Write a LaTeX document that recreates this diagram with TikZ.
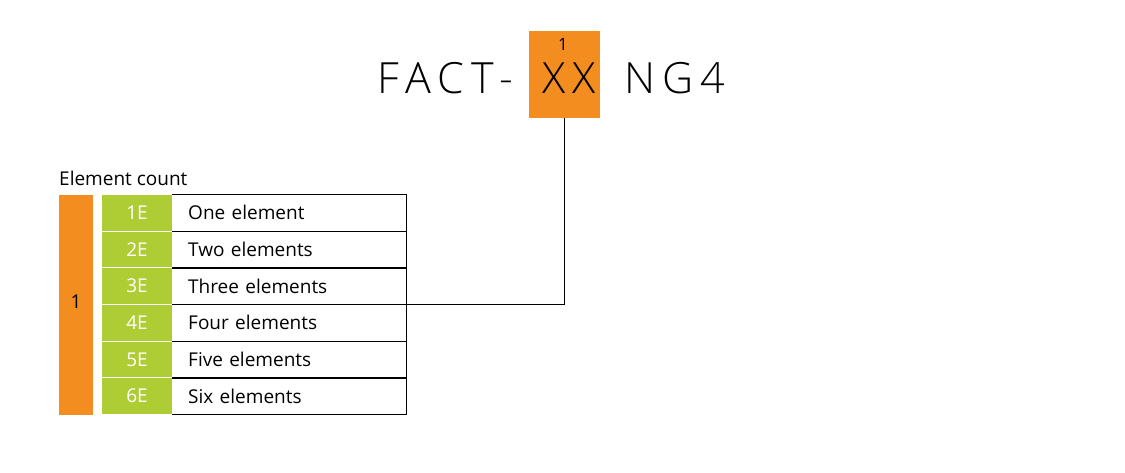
\documentclass[tikz,border=0pt]{standalone}
\usepackage{fontspec}
\setmainfont{Open Sans}
\newfontfamily\titlefont[LetterSpace=17]{Open Sans Light}
\definecolor{orng}{RGB}{244,141,32}
\definecolor{grn}{RGB}{174,204,52}
\begin{document}
\begin{tikzpicture}[x=1pt,y=-1pt,
  tfont/.style={font=\fontsize{19}{22}\selectfont},
  greencell/.style={tfont,fill=grn,text=white,minimum width=70pt,minimum height=35.6pt,inner sep=0pt},
  labelcell/.style={tfont,minimum width=234pt,minimum height=36.67pt,inner xsep=16pt,inner ysep=0pt,text width=202pt,align=left,anchor=west},
  titletext/.style={inner sep=0pt,font=\titlefont\fontsize{43}{48}\selectfont},
  rule/.style={draw=black,line width=0.8pt}]
\useasboundingbox (0,0) rectangle (1125,472);
% title
\node[fill=orng,minimum width=71pt,minimum height=87pt,inner sep=0pt,anchor=north west] (xxbox) at (529,31) {};
\node[inner sep=0pt,font=\fontsize{17}{20}\selectfont] (one) at (563,44) {1};
\node[titletext] (xx) at (569,78) {XX};
\node[titletext,anchor=east] (fact) at (514,78) {FACT-};
\node[titletext,anchor=west] (ng) at (624,78) {NG4};
% table
\node[tfont,anchor=base west,inner sep=0pt] (ec) at (59,185) {Element count};
\node[fill=orng,minimum width=34pt,minimum height=220pt,inner sep=0pt,anchor=north west] (bar) at (59,194.5) {};
\node[tfont] (barlbl) at (76,302) {1};
\foreach \i/\c/\t in {1/1E/One element,2/2E/Two elements,3/3E/Three elements,4/4E/Four elements,5/5E/Five elements,6/6E/Six elements}{
  \node[greencell] (g\i) at (137,{194.5+36.67*(\i-0.5)}) {\c};
  \node[labelcell] (l\i) at (172,{194.5+36.67*(\i-0.5)}) {\t};
  \draw[rule] (l\i.north west) -- (l\i.north east) -- (l\i.south east) -- (l\i.south west);
}
\draw[rule] (xxbox.south) |- (l3.south east);
\end{tikzpicture}
\end{document}
